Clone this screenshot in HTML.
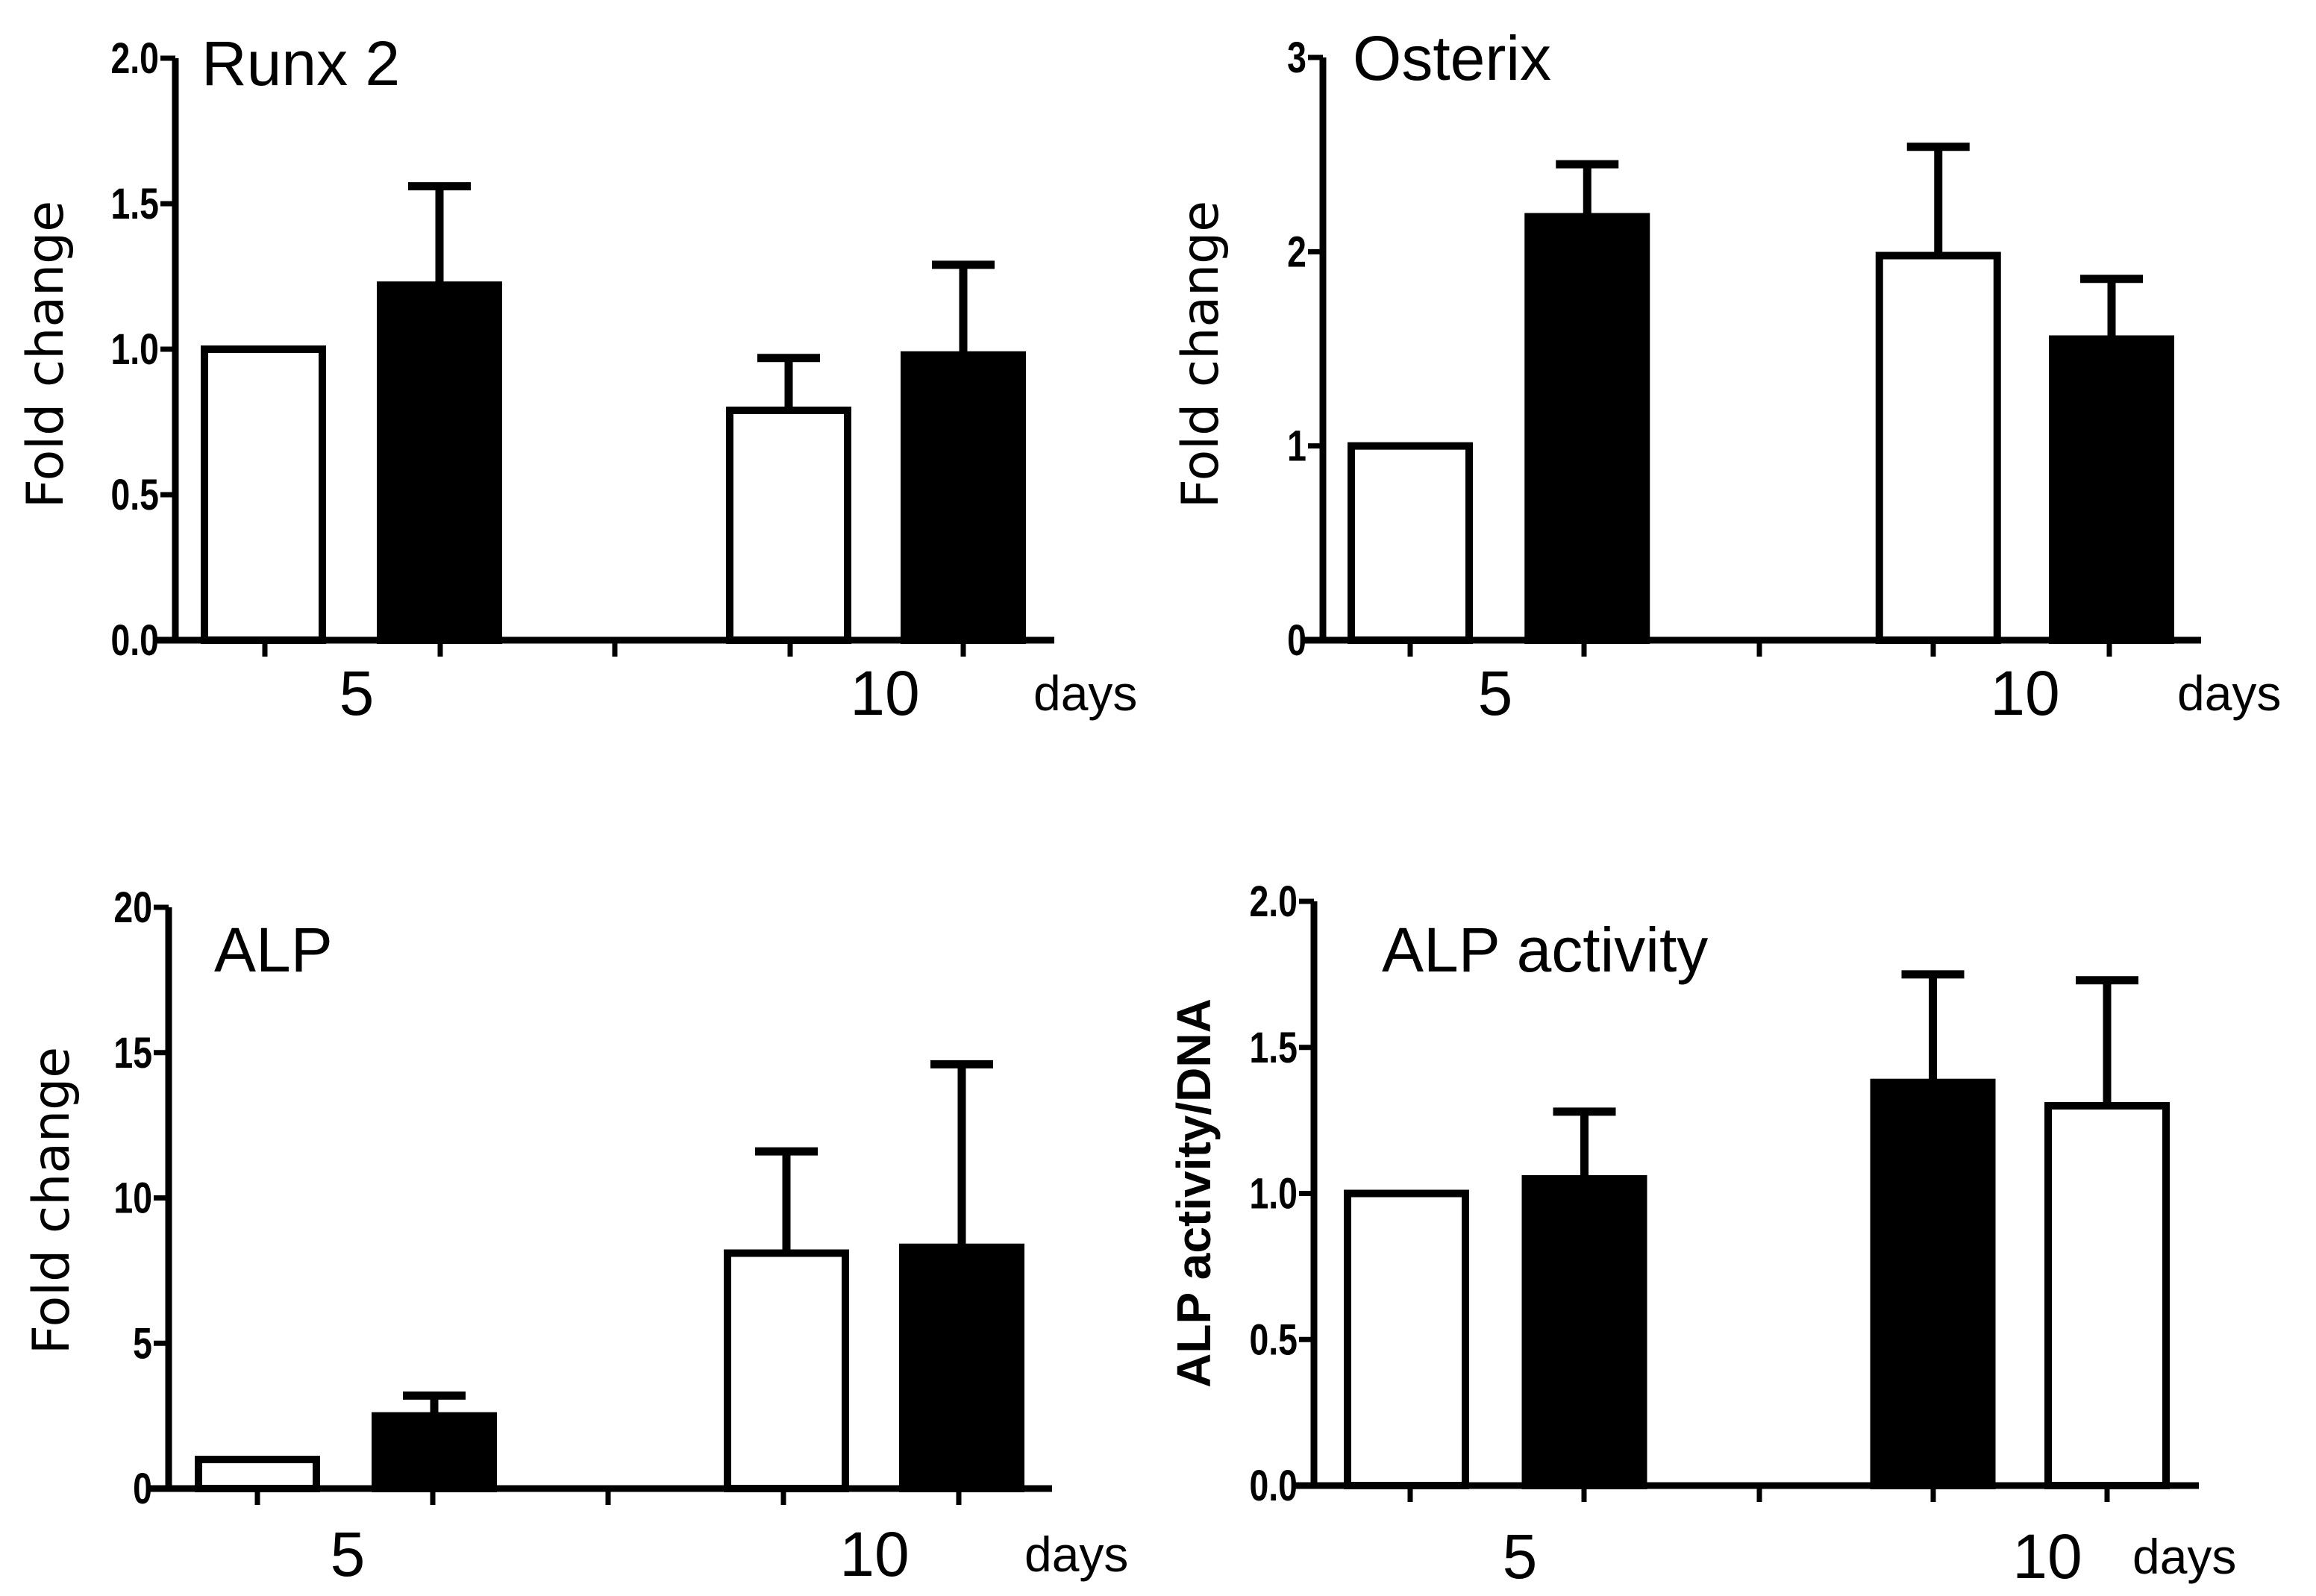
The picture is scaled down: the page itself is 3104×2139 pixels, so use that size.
<!DOCTYPE html>
<html><head><meta charset="utf-8"><style>
html,body{margin:0;padding:0;background:#fff;}
svg{display:block;}
.tick{font-family:"Liberation Sans",sans-serif;font-weight:bold;font-size:58px;}
.ttl{font-family:"Liberation Sans",sans-serif;font-size:84px;}
.xl{font-family:"Liberation Sans",sans-serif;font-size:84px;}
.days{font-family:"Liberation Sans",sans-serif;font-size:66px;}
.yt{font-family:"DejaVu Sans","Liberation Sans",sans-serif;font-size:68px;}
.ytb{font-family:"Liberation Sans",sans-serif;font-size:64px;font-weight:bold;}
</style></head><body>
<svg id="fig" width="3104" height="2139" viewBox="0 0 3104 2139" xmlns="http://www.w3.org/2000/svg"></svg>
<script>
// Data
const categories = ["5 days A","5 days B","10 days A","10 days B"];
const runxValues = [1.0, 1.22, 0.79, 0.98];
const runxErrTop = [1.0, 1.56, 0.97, 1.29];
const runxFill = ["white","black","white","black"];
const runxTicks = ["0.0","0.5","1.0","1.5","2.0"];
const osxValues = [1.0, 2.18, 1.98, 1.55];
const osxErrTop = [1.0, 2.45, 2.54, 1.86];
const osxFill = ["white","black","white","black"];
const osxTicks = ["0","1","2","3"];
const alpValues = [1.0, 2.5, 8.1, 8.3];
const alpErrTop = [1.0, 3.2, 11.6, 14.6];
const alpFill = ["white","black","white","black"];
const alpTicks = ["0","5","10","15","20"];
const actValues = [1.0, 1.05, 1.38, 1.30];
const actErrTop = [1.0, 1.28, 1.75, 1.73];
const actFill = ["white","black","black","white"];
const actTicks = ["0.0","0.5","1.0","1.5","2.0"];

const NS="http://www.w3.org/2000/svg";
const svg=document.getElementById('fig');
function mk(tag,attrs,parent,text){const e=document.createElementNS(NS,tag);for(const k in attrs)e.setAttribute(k,attrs[k]);if(text!==undefined)e.textContent=text;(parent||svg).appendChild(e);return e;}

function panel(p){
  const g=mk('g',{});
  
  
  const ymax=parseFloat(p.ticks[p.ticks.length-1]);
  const y=v=>p.y0-(v/ymax)*(p.y0-p.ytop);
  const step=(p.tickX[4]-p.tickX[0])/4;
  const xc=i=>p.tickX[0]+step*[0,1,3,4][i]+p.off[i];
  p.vals.forEach((v,i)=>{
    const cx=xc(i),w=158;
    const top=y(v);
    const r=mk('rect',{x:cx-w/2,y:top,width:w,height:p.y0-top,fill:p.fill[i],stroke:'#000','stroke-width':10},g);
    
    
    if(p.err[i]>v+0.001){
      const e=mk('path',{d:`M${cx},${top} L${cx},${y(p.err[i])} M${cx-42},${y(p.err[i])} L${cx+42},${y(p.err[i])}`,stroke:'#000','stroke-width':11,fill:'none'},g);
      
      
    }
  });
  const ya=mk('path',{d:`M${p.ax},${p.ytop} L${p.ax},${p.y0+4}`,stroke:'#000','stroke-width':9,fill:'none'},g);
  
  
  const xa=mk('path',{d:`M${p.ax-26},${p.y0} L${p.xend},${p.y0}`,stroke:'#000','stroke-width':9,fill:'none'},g);
  
  
  p.tickX.forEach(tx=>{mk('line',{x1:tx,y1:p.y0,x2:tx,y2:p.y0+22,stroke:'#000','stroke-width':7},g);});
  p.ticks.forEach(t=>{
    const yy=y(parseFloat(t));
    mk('line',{x1:p.ax-20,y1:yy,x2:p.ax,y2:yy,stroke:'#000','stroke-width':7},g);
    const tl=mk('text',{x:0,y:0,'text-anchor':'end',class:'tick',transform:`translate(${p.ax-22},${yy+20}) scale(0.8,1)`},g,t);
    
    
  });
  const tt=mk('text',{x:p.tx,y:p.ty,class:'ttl'},g,p.title);
  
  
  const yl=mk('text',{x:0,y:0,class:p.ycls,'text-anchor':'middle',transform:`translate(${p.ylx},${p.yly}) rotate(-90)`},g,p.ylabel);
  
  
  const x5=mk('text',{x:p.x5,y:p.xly,class:'xl','text-anchor':'middle'},g,'5');
  
  
  const x10=mk('text',{x:p.x10,y:p.xly,class:'xl','text-anchor':'middle'},g,'10');
  
  
  const d=mk('text',{x:p.dx,y:p.xly-6,class:'days'},g,'days');
  
  
}

panel({name:'runx2-chart',key:'runx2',vals:runxValues,err:runxErrTop,fill:runxFill,ticks:runxTicks,
  ax:235,ytop:78,y0:858,xend:1413,tickX:[355,590,824,1059,1291],off:[-2,0,0,0],
  title:'Runx 2',tx:270,ty:114,ylabel:'Fold change',ycls:'yt',ylx:84,yly:475,x5:478,x10:1186,xly:958,dx:1385});
panel({name:'osterix-chart',key:'osterix',vals:osxValues,err:osxErrTop,fill:osxFill,ticks:osxTicks,
  ax:1773,ytop:77,y0:858,xend:2950,tickX:[1890,2123,2358,2591,2827],off:[0,3,5,3],
  title:'Osterix',tx:1813,ty:107,ylabel:'Fold change',ycls:'yt',ylx:1632,yly:475,x5:2004,x10:2714,xly:958,dx:2918});
panel({name:'alp-chart',key:'alp',vals:alpValues,err:alpErrTop,fill:alpFill,ticks:alpTicks,
  ax:226,ytop:1216,y0:1995,xend:1410,tickX:[345,580,815,1050,1285],off:[0,2,4,4],
  title:'ALP',tx:287,ty:1302,ylabel:'Fold change',ycls:'yt',ylx:92,yly:1609,x5:466,x10:1172,xly:2112,dx:1373});
panel({name:'alp-activity-chart',key:'alp-activity',vals:actValues,err:actErrTop,fill:actFill,ticks:actTicks,
  ax:1761,ytop:1208,y0:1991,xend:2947,tickX:[1890,2123,2358,2591,2824],off:[-5,0,0,0],
  title:'ALP activity',tx:1852,ty:1302,ylabel:'ALP activity/DNA',ycls:'ytb',ylx:1622,yly:1599,x5:2037,x10:2744,xly:2115,dx:2858});
</script>
</body></html>
